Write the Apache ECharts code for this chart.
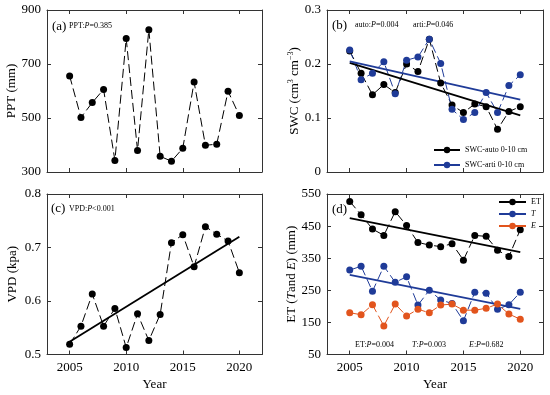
<!DOCTYPE html>
<html>
<head>
<meta charset="utf-8">
<script src="https://cdn.jsdelivr.net/npm/echarts@6/dist/echarts.min.js"></script>
<style>html,body{margin:0;padding:0;background:#fff}#c{width:550px;height:395px}</style>
</head>
<body>
<div id="c"></div>
<script>
const years = [2005,2006,2007,2008,2009,2010,2011,2012,2013,2014,2015,2016,2017,2018,2019,2020];
const xTicks = [2005,2010,2015,2020];
const ppt = [656,502,557,606,343,794,380,827,358,340,388,633,399,403,599,509];
const swcAuto = [0.224,0.183,0.143,0.162,0.147,0.200,0.186,0.246,0.165,0.124,0.110,0.126,0.121,0.079,0.112,0.121];
const swcArti = [0.226,0.171,0.183,0.204,0.145,0.207,0.213,0.246,0.201,0.116,0.097,0.110,0.147,0.110,0.160,0.180];
const vpd = [0.519,0.553,0.613,0.553,0.586,0.513,0.576,0.526,0.575,0.709,0.724,0.664,0.739,0.725,0.712,0.653];
const et = [527,485,441,421,495,452,399,391,386,395,344,421,418,375,355,439];
const tr = [313,325,247,325,275,292,204,250,220,209,155,244,241,191,205,244];
const ev = [180,174,205,139,207,170,191,180,204,207,188,188,194,207,176,160];
const trendYears = [2005,2020];
const swcAutoTrend = [0.202,0.105];
const swcArtiTrend = [0.205,0.134];
const vpdTrend = [0.524,0.720];
const etTrend = [475,369];
const tTrend = [298,192];

const FONT = 'Liberation Serif';
const BLACK = '#000000', BLUE = '#1f3b98', ORANGE = '#e2541d', AX = '#333333';
const pair = (xs, ys) => xs.map((x,i)=>[x, ys[i]]);

const grids = [
  {left:47, top:10, width:215, height:162},
  {left:327, top:10, width:216, height:162},
  {left:47, top:194, width:215, height:160.5},
  {left:327, top:194, width:216, height:160.5}
];
const yCfg = [
  {min:300,max:900,interval:200,name:'PPT (mm)',gap:29},
  {min:0,max:0.3,interval:0.1,name:'SWC (cm{sup|3} cm{sup|−3})',gap:25},
  {min:0.5,max:0.8,interval:0.1,name:'VPD (kpa)',gap:28},
  {min:50,max:550,interval:100,name:'ET ({i|T}and {i|E}) (mm)',gap:29}
];

const xAxis = [], yAxis = [];
grids.forEach((g,i)=>{
  const bottomRow = i>=2;
  xAxis.push({
    type:'value', gridIndex:i, min:2003, max:2022, position:'bottom',
    axisLine:{onZero:false, lineStyle:{color:AX, width:1}},
    axisTick:{inside:true, length:4, customValues:xTicks, lineStyle:{color:AX}},
    axisLabel:{show:bottomRow, customValues:xTicks, fontSize:13, color:'#000', margin:7, fontFamily:FONT,
      formatter:v => String(v)},
    splitLine:{show:false},
    name: bottomRow ? 'Year' : '', nameLocation:'middle', nameGap:24,
    nameTextStyle:{fontSize:13, color:'#000', fontFamily:FONT}
  });
  xAxis.push({
    type:'value', gridIndex:i, min:2003, max:2022, position:'top',
    axisLine:{onZero:false, lineStyle:{color:AX, width:1}},
    axisTick:{inside:true, length:4, customValues:xTicks, lineStyle:{color:AX}},
    axisLabel:{show:false, customValues:xTicks},
    splitLine:{show:false}
  });
  const c = yCfg[i];
  yAxis.push({
    type:'value', gridIndex:i, min:c.min, max:c.max, interval:c.interval, position:'left',
    axisLine:{show:true, onZero:false, lineStyle:{color:AX, width:1}},
    axisTick:{show:true, inside:true, length:4, lineStyle:{color:AX}},
    axisLabel:{fontSize:13, color:'#000', margin:6, fontFamily:FONT},
    splitLine:{show:false},
    name:c.name, nameLocation:'middle', nameGap:c.gap, nameRotate:90,
    nameTextStyle:{fontSize:13, color:'#000', fontFamily:FONT,
      rich:{sup:{fontSize:8, verticalAlign:'top', color:'#000', fontFamily:FONT, padding:[0,0,6,0]},
            i:{fontSize:13, fontStyle:'italic', color:'#000', fontFamily:FONT}}}
  });
  yAxis.push({
    type:'value', gridIndex:i, min:c.min, max:c.max, interval:c.interval, position:'right',
    axisLine:{show:true, onZero:false, lineStyle:{color:AX, width:1}},
    axisTick:{show:true, inside:true, length:4, lineStyle:{color:AX}},
    axisLabel:{show:false}, splitLine:{show:false}
  });
});

function dataSeries(name, gi, ys, color){
  return {
    name, type:'line', xAxisIndex:gi*2, yAxisIndex:gi*2, data:pair(years, ys),
    symbol:'circle', symbolSize:7, itemStyle:{color},
    lineStyle:{color, width:1, type:[9,4]}, animation:false
  };
}
function trendSeries(name, gi, ys, color, w){
  return {
    name, type:'line', xAxisIndex:gi*2, yAxisIndex:gi*2, data:pair(trendYears, ys),
    symbol:'none', lineStyle:{color, width:w||1.8, type:'solid'}, animation:false, z:3
  };
}

const series = [
  dataSeries('PPT',0,ppt,BLACK),
  dataSeries('SWC-auto 0-10 cm',1,swcAuto,BLACK),
  dataSeries('SWC-arti 0-10 cm',1,swcArti,BLUE),
  trendSeries('autoTrend',1,swcAutoTrend,BLACK),
  trendSeries('artiTrend',1,swcArtiTrend,BLUE),
  dataSeries('VPD',2,vpd,BLACK),
  trendSeries('vpdTrend',2,vpdTrend,BLACK),
  dataSeries('ET',3,et,BLACK),
  dataSeries('T',3,tr,BLUE),
  dataSeries('E',3,ev,ORANGE),
  trendSeries('etTrend',3,etTrend,BLACK),
  trendSeries('tTrend',3,tTrend,BLUE)
];

const smallRich = {
  n:{fontSize:8, fontFamily:FONT, fill:'#000'},
  i:{fontSize:8, fontFamily:FONT, fontStyle:'italic', fill:'#000'}
};
function txt(x, y, text, size){
  return {type:'text', x, y, silent:true, z:100,
    style:{text, fontFamily:FONT, fontSize:size||8, fill:'#000', verticalAlign:'middle', align:'left', rich:smallRich}};
}

const option = {
  animation:false,
  textStyle:{fontFamily:FONT},
  grid:grids,
  xAxis, yAxis, series,
  legend:[
    {orient:'vertical', left:428, top:141, itemWidth:26, itemHeight:8, itemGap:7,
     data:['SWC-auto 0-10 cm','SWC-arti 0-10 cm'],
     lineStyle:{type:'solid'},
     textStyle:{fontSize:8, fontFamily:FONT, color:'#000'}},
    {orient:'vertical', left:493, top:193, itemWidth:27, itemHeight:8, itemGap:4,
     data:['ET','T','E'],
     lineStyle:{type:'solid'},
     formatter:n => n==='ET' ? n : '{i|'+n+'}',
     textStyle:{fontSize:8, fontFamily:FONT, color:'#000', rich:{i:{fontSize:8, fontStyle:'italic', fontFamily:FONT}}}}
  ],
  graphic:[
    txt(52, 27, '(a)', 13),
    txt(69, 26, '{n|PPT:}{i|P}{n|=0.385}'),
    txt(332, 26, '(b)', 13),
    txt(355, 25, '{n|auto:}{i|P}{n|=0.004}'),
    txt(413, 25, '{n|arti:}{i|P}{n|=0.046}'),
    txt(51, 209, '(c)', 13),
    txt(69, 209, '{n|VPD:}{i|P}{n|<0.001}'),
    txt(332, 210, '(d)', 13),
    txt(355, 345, '{n|ET:}{i|P}{n|=0.004}'),
    txt(412, 345, '{i|T}{n|:}{i|P}{n|=0.003}'),
    txt(469, 345, '{i|E}{n|:}{i|P}{n|=0.682}')
  ]
};
const chart = echarts.init(document.getElementById('c'), null, {renderer:'canvas'});
chart.setOption(option);
</script>
</body>
</html>
